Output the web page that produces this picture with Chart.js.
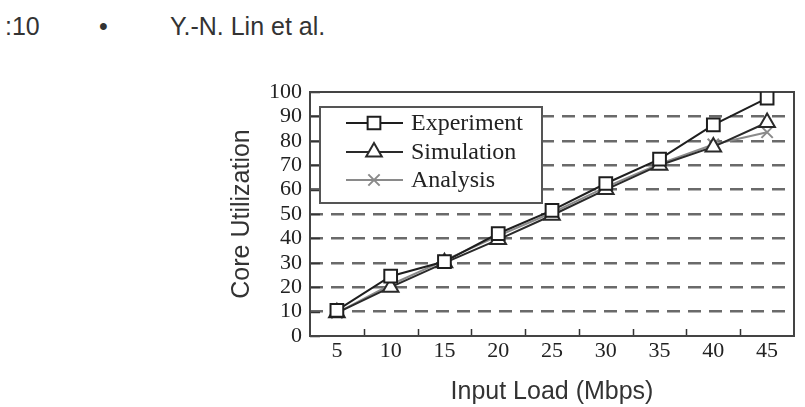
<!DOCTYPE html>
<html>
<head>
<meta charset="utf-8">
<script src="https://cdn.jsdelivr.net/npm/chart.js@4.4.1/dist/chart.umd.min.js"></script>
<style>
  body { margin: 0; background: #fff; }
  #wrap { position: relative; width: 805px; height: 407px; overflow: hidden; }
  #myChart { position: absolute; left: 0; top: 0; }
  .hdr { position: absolute; top: 12px; font-family: "Liberation Sans", Arial, sans-serif; font-size: 25px; color: #333; white-space: nowrap; }
</style>
</head>
<body>
<div id="wrap">
  <div class="hdr" style="left:5px">:10</div>
  <div class="hdr" style="left:99px">•</div>
  <div class="hdr" style="left:170px">Y.-N. Lin et al.</div>
  <canvas id="myChart" width="805" height="407"></canvas>
</div>
<script>
const loads = ['5', '10', '15', '20', '25', '30', '35', '40', '45'];
const experiment = [10.5, 24.5, 30.5, 42, 51.5, 62.5, 72.5, 86.5, 97.5];
const simulation = [9.5, 20, 30, 39.5, 49.5, 60, 70, 77.5, 87.5];
const analysis = [9.5, 21, 31, 41, 50.5, 61, 70.5, 78.5, 83.5];
const y_min = 0;
const y_max = 100;
const y_step = 10;

const serif = '"Liberation Serif", "Times New Roman", serif';
const sans = '"Liberation Sans", Arial, sans-serif';

// frame, inward tick marks and the boxed legend inside the plot
const frameLegend = {
    id: 'frameLegend',
    beforeDatasetsDraw(chart) {
        const ctx = chart.ctx;
        const a = chart.chartArea;
        const x = chart.scales.x;
        const y = chart.scales.y;
        ctx.save();
        ctx.strokeStyle = '#333';
        ctx.lineWidth = 1.5;
        ctx.beginPath();
        y.ticks.forEach((t) => {
            const py = Math.round(y.getPixelForValue(t.value)) + 0.5;
            ctx.moveTo(a.left, py);
            ctx.lineTo(a.left + 10, py);
        });
        for (let i = 0; i < loads.length - 1; i++) {
            const px = Math.round((x.getPixelForValue(i) + x.getPixelForValue(i + 1)) / 2) + 0.5;
            ctx.moveTo(px, a.bottom);
            ctx.lineTo(px, a.bottom - 7);
        }
        ctx.stroke();
        ctx.lineWidth = 2;
        ctx.strokeStyle = '#444';
        ctx.strokeRect(a.left, a.top, a.right - a.left, a.bottom - a.top);

        // legend
        const lx = a.left + 10, ly = a.top + 15, lw = 222, lh = 96;
        ctx.fillStyle = '#fff';
        ctx.fillRect(lx, ly, lw, lh);
        ctx.strokeStyle = '#555';
        ctx.lineWidth = 2;
        ctx.strokeRect(lx, ly, lw, lh);
        const rows = [31, 60, 88];
        ctx.font = '24px ' + serif;
        ctx.textBaseline = 'middle';
        chart.data.datasets.forEach((ds, i) => {
            const ry = a.top + rows[i];
            ctx.strokeStyle = ds.borderColor;
            ctx.lineWidth = ds.borderWidth;
            ctx.beginPath();
            ctx.moveTo(a.left + 36, ry);
            ctx.lineTo(a.left + 93, ry);
            ctx.stroke();
            ctx.fillStyle = ds.pointBackgroundColor;
            ctx.strokeStyle = ds.pointBorderColor;
            ctx.lineWidth = ds.pointBorderWidth;
            Chart.helpers.drawPoint(ctx, {
                pointStyle: ds.pointStyle,
                radius: ds.pointRadius,
                borderWidth: ds.pointBorderWidth,
                rotation: 0
            }, a.left + 64, ry);
            ctx.fillStyle = '#222';
            ctx.fillText(ds.label, a.left + 101, ry + 1);
        });
        ctx.restore();
    }
};

const data = {
    labels: loads,
    datasets: [{
        label: 'Experiment',
        data: experiment,
        borderColor: '#1e1e1e',
        borderWidth: 2,
        pointStyle: 'rect',
        pointRadius: 9,
        pointBorderWidth: 2,
        pointBackgroundColor: '#fff',
        pointBorderColor: '#1e1e1e'
    }, {
        label: 'Simulation',
        data: simulation,
        borderColor: '#2a2a2a',
        borderWidth: 2,
        pointStyle: 'triangle',
        pointRadius: 9,
        pointBorderWidth: 2,
        pointBackgroundColor: '#fff',
        pointBorderColor: '#2a2a2a'
    }, {
        label: 'Analysis',
        data: analysis,
        borderColor: '#8a8a8a',
        borderWidth: 2,
        pointStyle: 'crossRot',
        pointRadius: 8,
        pointBorderWidth: 2,
        pointBackgroundColor: '#8a8a8a',
        pointBorderColor: '#8a8a8a'
    }]
};

const ctx = document.getElementById('myChart').getContext('2d');
const myChart = new Chart(ctx, {
    type: 'line',
    data: data,
    plugins: [frameLegend],
    options: {
        responsive: false,
        animation: false,
        layout: { padding: { left: 227, top: 92, right: 6, bottom: 0 } },
        plugins: { legend: { display: false }, tooltip: { enabled: false } },
        scales: {
            x: {
                offset: true,
                grid: { display: false, drawTicks: false, tickLength: 0 },
                border: { display: false },
                ticks: { color: '#222', font: { family: serif, size: 22 }, padding: 2, maxRotation: 0, autoSkip: false },
                title: { display: true, text: 'Input Load (Mbps)', color: '#333', font: { family: sans, size: 25 }, padding: 0 },
                afterFit: (scale) => { scale.height = 71; }
            },
            y: {
                min: y_min,
                max: y_max,
                grid: {
                    drawTicks: false,
                    lineWidth: 2.5,
                    color: (c) => (c.tick && (c.tick.value === y_min || c.tick.value === y_max)) ? 'rgba(0,0,0,0)' : '#6a6a6a'
                },
                border: { display: false, dash: [13, 8] },
                ticks: { stepSize: y_step, autoSkip: false, color: '#222', font: { family: serif, size: 22 }, padding: 8 },
                title: { display: true, text: 'Core Utilization', color: '#333', font: { family: sans, size: 25 }, padding: 0 },
                afterFit: (scale) => { scale.width = 83; }
            }
        }
    }
});
</script>
</body>
</html>
